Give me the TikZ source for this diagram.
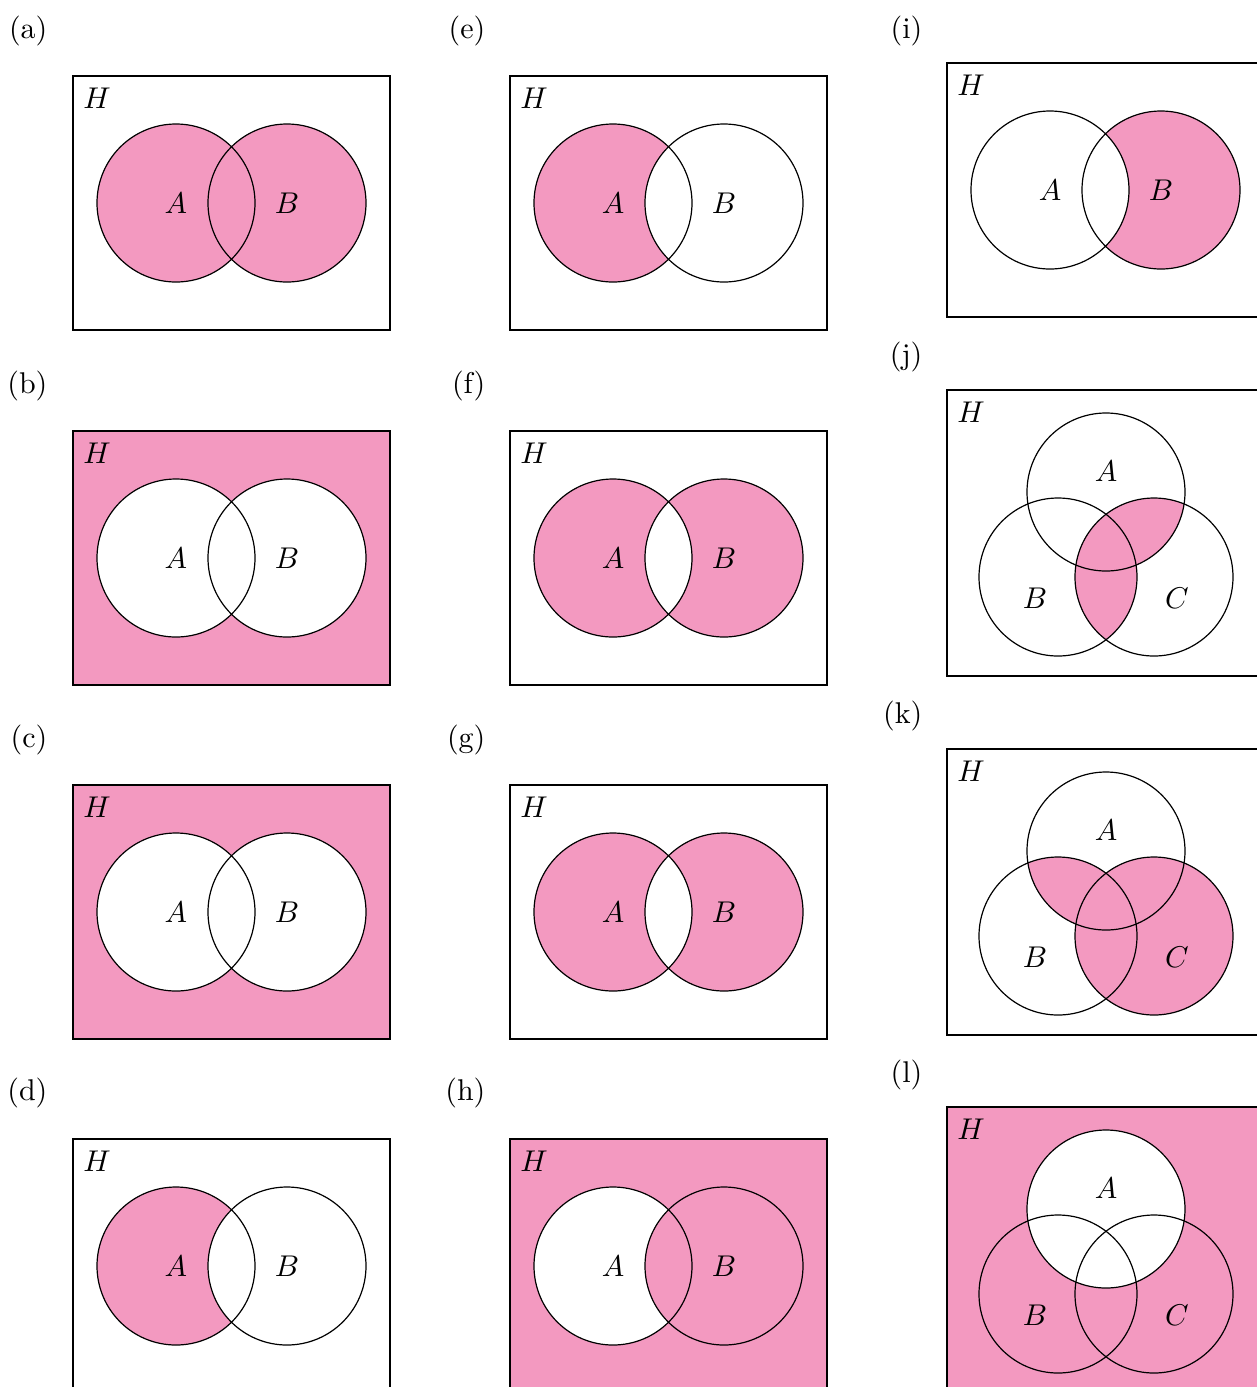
\documentclass[tikz,border=0pt]{standalone}
\usepackage{tikz}
\usetikzlibrary{positioning}
\definecolor{venn}{RGB}{243,153,192}

\def\boxH{(0,0) rectangle (317,254)}
\def\setA{(103,127) circle[radius=79]}
\def\setB{(214,127) circle[radius=79]}
\def\boxT{(0,0) rectangle (317,286)}
\def\triA{(159,102) circle[radius=79]}
\def\triB{(111,187) circle[radius=79]}
\def\triC{(207,187) circle[radius=79]}

\newcommand{\twosets}[1]{%
  \draw[outline] \boxH;
  \draw[outline] \setA;
  \draw[outline] \setB;
  \node[setname] (#1-H) at (24,22) {$H$};
  \node[setname] (#1-A) at (103,127) {$A$};
  \node[setname] (#1-B) at (214,127) {$B$};}
\newcommand{\threesets}[1]{%
  \draw[outline] \boxT;
  \draw[outline] \triA;
  \draw[outline] \triB;
  \draw[outline] \triC;
  \node[setname] (#1-H) at (24,22) {$H$};
  \node[setname] (#1-A) at (159,81) {$A$};
  \node[setname] (#1-B) at (88,208) {$B$};
  \node[setname] (#1-C) at (230,208) {$C$};}

\begin{document}
\begin{tikzpicture}[
  x=0.3333pt, y=-0.3333pt,
  outline/.style={draw=black, line width=0.4pt},
  setname/.style={inner sep=0pt},
  tagname/.style={anchor=east, inner sep=0pt},
]
  \clip (0,0) rectangle (1257,1387);

  \node[tagname] (a) at (48,31) {(a)};
  \node[tagname] (b) at (48,386) {(b)};
  \node[tagname] (c) at (48,740) {(c)};
  \node[tagname] (d) at (48,1093) {(d)};
  \node[tagname] (e) at (486,31) {(e)};
  \node[tagname] (f) at (486,386) {(f)};
  \node[tagname] (g) at (486,740) {(g)};
  \node[tagname] (h) at (486,1093) {(h)};
  \node[tagname] (i) at (923,31) {(i)};
  \node[tagname] (j) at (923,357) {(j)};
  \node[tagname] (k) at (923,716) {(k)};
  \node[tagname] (l) at (923,1075) {(l)};

  % first column
  \begin{scope}[shift={(73,76)}]
    \fill[venn] \setA \setB;
    \twosets{pa}
  \end{scope}
  \begin{scope}[shift={(73,431)}]
    \fill[venn] \boxH;
    \fill[white] \setA \setB;
    \twosets{pb}
  \end{scope}
  \begin{scope}[shift={(73,785)}]
    \fill[venn] \boxH;
    \fill[white] \setA \setB;
    \twosets{pc}
  \end{scope}
  \begin{scope}[shift={(73,1139)}]
    \fill[venn] \setA;
    \fill[white] \setB;
    \twosets{pd}
  \end{scope}

  % second column
  \begin{scope}[shift={(510,76)}]
    \fill[venn] \setA;
    \fill[white] \setB;
    \twosets{pe}
  \end{scope}
  \begin{scope}[shift={(510,431)}]
    \fill[venn, even odd rule] \setA \setB;
    \twosets{pf}
  \end{scope}
  \begin{scope}[shift={(510,785)}]
    \fill[venn, even odd rule] \setA \setB;
    \twosets{pg}
  \end{scope}
  \begin{scope}[shift={(510,1139)}]
    \fill[venn] \boxH;
    \fill[white] \setA;
    \begin{scope}
      \clip \setA;
      \fill[venn] \setB;
    \end{scope}
    \twosets{ph}
  \end{scope}

  % third column
  \begin{scope}[shift={(947,63)}]
    \fill[venn] \setB;
    \fill[white] \setA;
    \twosets{pi}
  \end{scope}
  \begin{scope}[shift={(947,390)}]
    \begin{scope}
      \clip \triC;
      \fill[venn] \triA \triB;
    \end{scope}
    \threesets{pj}
  \end{scope}
  \begin{scope}[shift={(947,749)}]
    \fill[venn] \triC;
    \begin{scope}
      \clip \triA;
      \fill[venn] \triB;
    \end{scope}
    \threesets{pk}
  \end{scope}
  \begin{scope}[shift={(947,1107)}]
    \fill[venn] \boxT;
    \fill[white] \triA;
    \threesets{pl}
  \end{scope}
\end{tikzpicture}
\end{document}
